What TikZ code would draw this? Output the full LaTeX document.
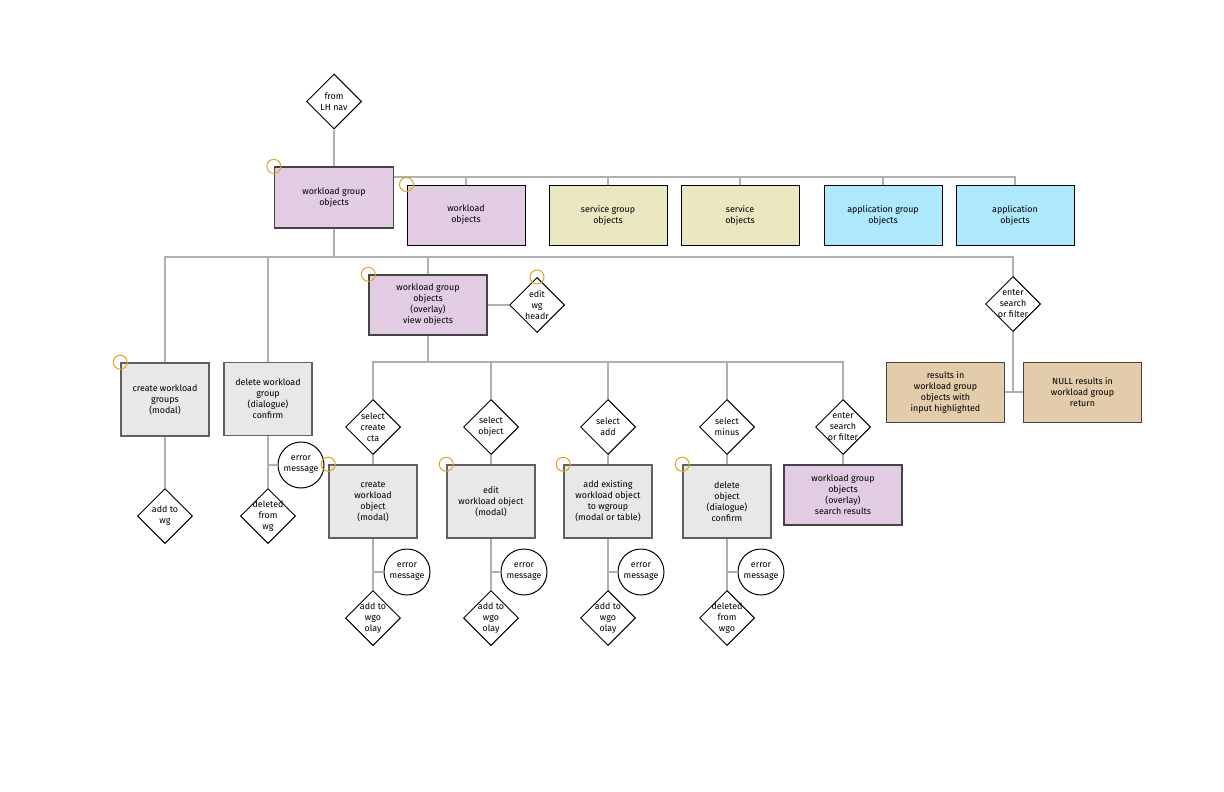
\documentclass[tikz,border=0pt]{standalone}
\usepackage{fontspec}
\setmainfont{Fira Sans}
\usepackage{tikz}
\usetikzlibrary{shapes.geometric}
\definecolor{lilaFill}{HTML}{E2CCE4}
\definecolor{greyFill}{HTML}{E8E8E8}
\definecolor{sandFill}{HTML}{EAE8C0}
\definecolor{skyFill}{HTML}{ADE8FC}
\definecolor{tanFill}{HTML}{E2CCAA}
\definecolor{darkEdge}{HTML}{444444}
\definecolor{lineGrey}{HTML}{B0B0B0}
\definecolor{markerGold}{HTML}{DDA51E}

\begin{document}
\begin{tikzpicture}[x=1pt,y=-1pt,
  every node/.style={font=\fontsize{8.9}{11}\selectfont,align=center},
  txt/.style={font=\fontsize{8.9}{11}\selectfont,align=center},
  box/.style={rectangle,inner sep=0pt,minimum width=118pt,minimum height=60pt,line width=1pt},
  lilabox/.style={box,fill=lilaFill,draw=darkEdge,line width=1.3pt},
  topbox/.style={box,draw=black,fill=#1},
  greybox/.style={box,fill=greyFill,draw=darkEdge!85,line width=1.5pt,minimum width=88pt,minimum height=73pt},
  tanbox/.style={box,fill=tanFill,draw=darkEdge},
  decision/.style={diamond,draw=black,fill=white,line width=1pt,minimum size=55pt,inner sep=0pt},
  errcirc/.style={circle,draw=black,fill=white,line width=1pt,minimum size=46pt,inner sep=0pt},
  conn/.style={draw=lineGrey,line width=1.2pt},
  ring/.style={draw=markerGold,line width=1pt}]
\useasboundingbox (0,0) rectangle (1224,792);

% giris ve ana kutu
\node[decision,label={[txt]center:{from\\LH nav}}] (lhnav) at (334,101.5) {};
\node[lilabox,minimum width=119pt,minimum height=61pt] (wgo) at (334,197.5) {workload group\\objects};

% ust siradaki kutular
\node[topbox=lilaFill] (wlo) at (466,215) {workload\\objects};
\node[topbox=sandFill] (sgo) at (608,215) {service group\\objects};
\node[topbox=sandFill] (svo) at (740,215) {service\\objects};
\node[topbox=skyFill] (ago) at (883,215) {application group\\objects};
\node[topbox=skyFill] (apo) at (1015,215) {application\\objects};

% ikinci seviye
\node[greybox] (cwg) at (165,399.5) {create workload\\groups\\(modal)};
\node[greybox] (dwg) at (268,399) {delete workload\\group\\(dialogue)\\confirm};
\node[lilabox] (ovl) at (428,305) {workload group\\objects\\(overlay)\\view objects};
\node[decision,label={[txt]center:{edit\\wg\\headr}}] (hdr) at (537,305) {};
\node[decision,label={[txt]center:{enter\\search\\or filter}}] (esr) at (1013,304) {};
\node[tanbox] (res) at (945.5,392) {results in\\workload group\\objects with\\input highlighted};
\node[tanbox] (nul) at (1082.5,392) {NULL results in\\workload group\\return};

\node[decision,label={[txt]center:{add to\\wg}}] (awg) at (165,516) {};
\node[decision,label={[txt]center:{deleted\\from\\wg}}] (dfw) at (268,516) {};
\node[errcirc] (e0) at (301,465) {error\\message};

% overlay altindaki secimler
\node[decision,label={[txt]center:{select\\create\\cta}}] (scc) at (373,427) {};
\node[decision,label={[txt]center:{select\\object}}] (sob) at (491,427) {};
\node[decision,label={[txt]center:{select\\add}}] (sad) at (608,427) {};
\node[decision,label={[txt]center:{select\\minus}}] (smi) at (727,427) {};
\node[decision,label={[txt]center:{enter\\search\\or filter}}] (esf) at (843,427) {};

\node[greybox] (cwo) at (373,501.5) {create\\workload\\object\\(modal)};
\node[greybox] (ewo) at (491,501.5) {edit\\workload object\\(modal)};
\node[greybox] (aeo) at (608,501.5) {add existing\\workload object\\to wgroup\\(modal or table)};
\node[greybox] (dob) at (727,501.5) {delete\\object\\(dialogue)\\confirm};
\node[lilabox] (srs) at (843,495) {workload group\\objects\\(overlay)\\search results};

\node[errcirc] (e1) at (407,572) {error\\message};
\node[errcirc] (e2) at (524,572) {error\\message};
\node[errcirc] (e3) at (641,572) {error\\message};
\node[errcirc] (e4) at (761,572) {error\\message};
\node[decision,label={[txt]center:{add to\\wgo\\olay}}] (a1) at (373,618) {};
\node[decision,label={[txt]center:{add to\\wgo\\olay}}] (a2) at (491,618) {};
\node[decision,label={[txt]center:{add to\\wgo\\olay}}] (a3) at (608,618) {};
\node[decision,label={[txt]center:{deleted\\from\\wgo}}] (dfo) at (727,618) {};

% baglantilar
\coordinate (b1) at (wgo.east |- 0,177);
\coordinate (b2) at (wgo.south |- 0,257);
\coordinate (b3) at (ovl.south |- 0,362);
\draw[conn] (lhnav.south) -- (wgo.north);
\draw[conn] (b1) -| (apo.north);
\foreach \n in {wlo,sgo,svo,ago}
  \draw[conn] (\n.north) -- (\n.north |- b1);
\draw[conn] (wgo.south) -- (b2);
\draw[conn] (cwg.north) |- (b2) -| (esr.north);
\foreach \n in {dwg,ovl}
  \draw[conn] (\n.north) -- (\n.north |- b2);
\draw[conn] (ovl.east) -- (hdr.west);
\draw[conn] (esr.south) -- (esr.south |- res.east);
\draw[conn] (res.east) -- (nul.west);
\draw[conn] (cwg.south) -- (awg.north);
\draw[conn] (dwg.south) -- (dfw.north);
\draw[conn] (dwg.south |- e0.west) -- (e0.west);
\draw[conn] (ovl.south) -- (b3);
\draw[conn] (scc.north) |- (b3) -| (esf.north);
\foreach \n in {sob,sad,smi}
  \draw[conn] (\n.north) -- (\n.north |- b3);
\draw[conn] (scc.south) -- (cwo.north);
\draw[conn] (sob.south) -- (ewo.north);
\draw[conn] (sad.south) -- (aeo.north);
\draw[conn] (smi.south) -- (dob.north);
\draw[conn] (esf.south) -- (srs.north);
\foreach \b/\e/\d in {cwo/e1/a1,ewo/e2/a2,aeo/e3/a3,dob/e4/dfo}{
  \draw[conn] (\b.south) -- (\d.north);
  \draw[conn] (\b.south |- \e.west) -- (\e.west);
}

% sari isaretler
\foreach \a in {wgo.north west,wlo.north west,ovl.north west,hdr.north,cwg.north west,cwo.north west,ewo.north west,aeo.north west,dob.north west}
  \draw[ring] (\a) circle[radius=7pt];
\end{tikzpicture}
\end{document}
